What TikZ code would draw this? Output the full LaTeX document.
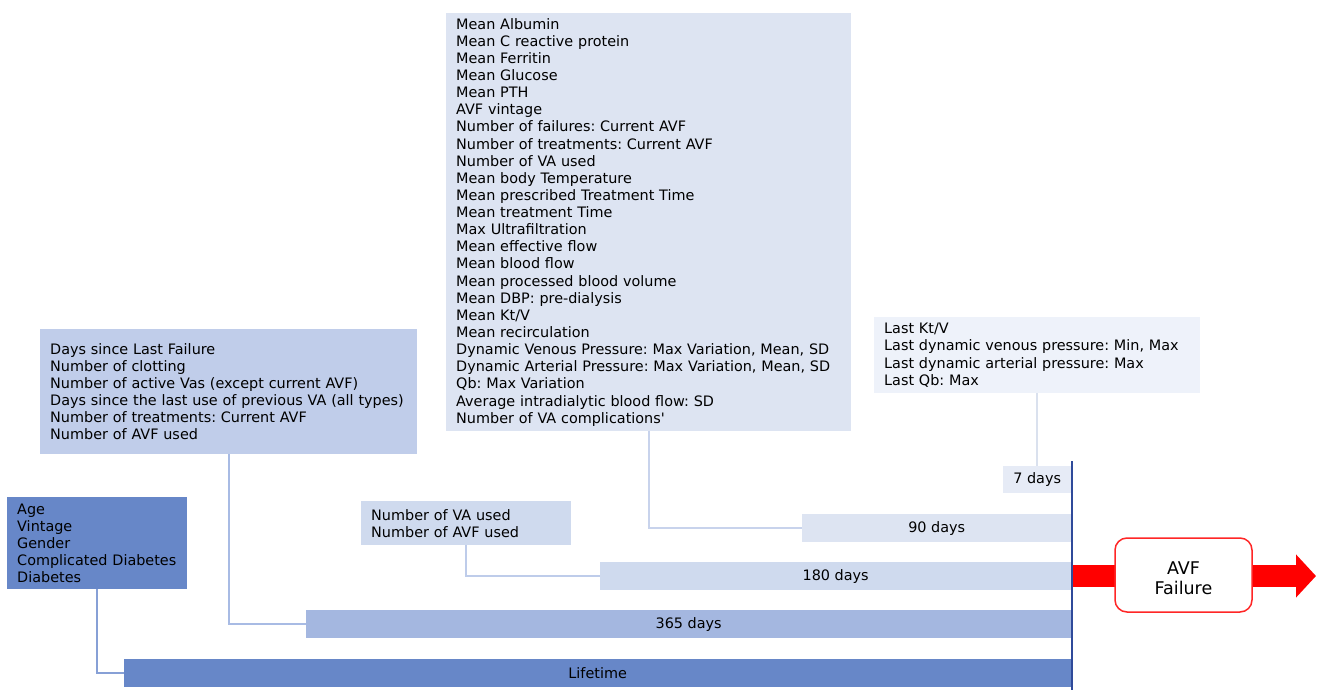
\documentclass[tikz,border=0pt]{standalone}
\usepackage{fontspec}
\setmainfont{DejaVu Sans}
\usepackage{tikz}
\usetikzlibrary{arrows.meta,positioning}
\frenchspacing
\definecolor{cLife}{RGB}{103,135,200}
\definecolor{cYear}{RGB}{164,183,224}
\definecolor{cYearBox}{RGB}{192,205,234}
\definecolor{cHalf}{RGB}{207,218,238}
\definecolor{cQuarter}{RGB}{221,228,242}
\definecolor{cWeek}{RGB}{230,235,246}
\definecolor{cWeekBox}{RGB}{238,242,250}
\definecolor{cLine}{RGB}{47,74,154}
\definecolor{cLinkLife}{RGB}{135,160,214}
\definecolor{cLinkYear}{RGB}{168,187,228}
\definecolor{cLinkHalf}{RGB}{190,204,234}
\definecolor{cLinkQuarter}{RGB}{200,211,236}
\definecolor{cLinkWeek}{RGB}{218,225,238}
\tikzset{
  featbox/.style={anchor=north west, align=left, inner xsep=10pt, inner ysep=0pt,
                  font=\fontsize{14.4pt}{17.13pt}\selectfont},
  bar/.style={anchor=north west, inner sep=0pt, minimum height=28pt,
              font=\fontsize{14.4pt}{17.1pt}\selectfont},
  link/.style={line width=1.8pt}
}

\begin{document}
\begin{tikzpicture}[x=1pt,y=-1pt]
  \useasboundingbox (0,0) rectangle (1318,690);

  \node[featbox, fill=cQuarter, text width=385pt, minimum height=418pt] (meanbox) at (446,13) {Mean Albumin\\Mean C reactive protein\\Mean Ferritin\\Mean Glucose\\Mean PTH\\AVF vintage\\Number of failures: Current AVF\\Number of treatments: Current AVF\\Number of VA used\\Mean body Temperature\\Mean prescribed Treatment Time\\Mean treatment Time\\Max Ultrafiltration\\Mean effective flow\\Mean blood flow\\Mean processed blood volume\\Mean DBP: pre-dialysis\\Mean Kt/V\\Mean recirculation\\Dynamic Venous Pressure: Max Variation, Mean, SD\\Dynamic Arterial Pressure: Max Variation, Mean, SD\\Qb: Max Variation\\Average intradialytic blood flow: SD\\Number of VA complications\textquotesingle};
  \node[featbox, fill=cYearBox, text width=357pt, minimum height=125pt] (yearbox) at (40,329) {Days since Last Failure\\Number of clotting\\Number of active Vas (except current AVF)\\Days since the last use of previous VA (all types)\\Number of treatments: Current AVF\\Number of AVF used};
  \node[featbox, fill=cLife, text width=160pt, minimum height=92pt] (statbox) at (7,497) {Age\\Vintage\\Gender\\Complicated Diabetes\\Diabetes};
  \node[featbox, fill=cHalf, text width=190pt, minimum height=44pt] (halfbox) at (361,501) {Number of VA used\\Number of AVF used};
  \node[featbox, fill=cWeekBox, text width=306pt, minimum height=76pt] (weekbox) at (874,317) {Last Kt/V\\Last dynamic venous pressure: Min, Max\\Last dynamic arterial pressure: Max\\Last Qb: Max};

  \node[bar, fill=cWeek, minimum width=68pt, minimum height=27pt] (week) at (1003,466) {7 days};
  \node[bar, fill=cQuarter, minimum width=269pt] (quarter) at (802,514) {90 days};
  \node[bar, fill=cHalf, minimum width=471pt] (half) at (600,562) {180 days};
  \node[bar, fill=cYear, minimum width=765pt] (year) at (306,610) {365 days};
  \node[bar, fill=cLife, minimum width=947pt] (life) at (124,659) {Lifetime};

  \draw[link, cLinkLife] (statbox.south) |- (life.west);
  \draw[link, cLinkYear] (yearbox.south) |- (year.west);
  \draw[link, cLinkHalf] (halfbox.south) |- (half.west);
  \draw[link, cLinkQuarter] (meanbox.south) |- (quarter.west);
  \draw[link, cLinkWeek] (weekbox.south) -- (week.north);

  \coordinate (now) at (1072,461);
  \coordinate (nowend) at (1072,690);
  \draw[cLine, line width=1.5pt] (now) -- (nowend);

  \coordinate (failin) at (1073,576);
  \coordinate (failout) at (1316,576);
  \draw[red, line width=22pt, -{Triangle[length=20pt,width=42pt]}] (failin) -- (failout);
  \node[draw=red!85!white, line width=1.5pt, rounded corners=12pt, fill=white,
        minimum width=137pt, minimum height=74pt,
        label={[align=center, yshift=-3pt, font=\fontsize{17.5pt}{20.5pt}\selectfont]center:AVF\\Failure}] (failure) at (1183.5,575) {};
\end{tikzpicture}
\end{document}
